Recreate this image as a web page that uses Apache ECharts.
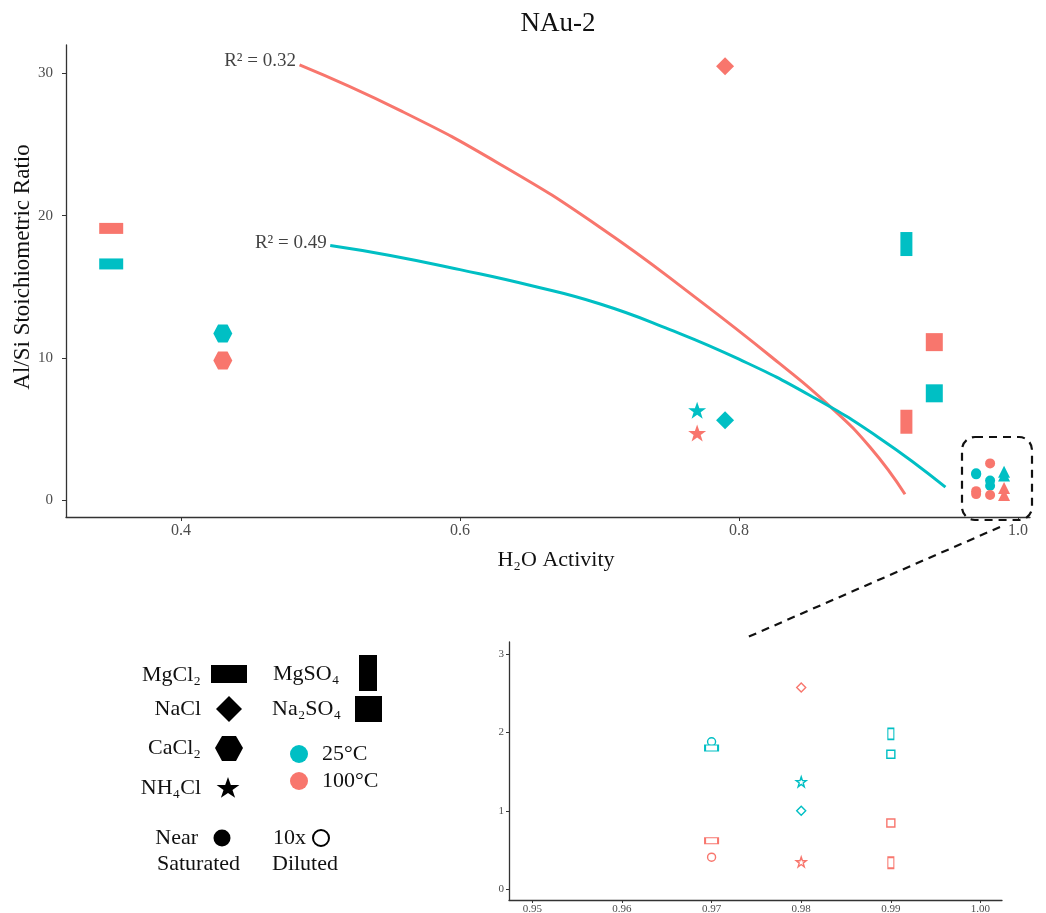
<!DOCTYPE html>
<html><head><meta charset="utf-8">
<script src="https://cdn.jsdelivr.net/npm/echarts@6/dist/echarts.min.js"></script>
<style>html,body{margin:0;padding:0;background:#fff}#c{width:1046px;height:913px}</style>
</head><body><div id="c"></div>
<script>
// ---------- DATA ----------
const mainSalts = ['MgCl2', 'CaCl2', 'NH4Cl', 'NaCl', 'MgSO4', 'Na2SO4'];
const mainX     = [0.35, 0.43, 0.77, 0.79, 0.92, 0.94];
const main25    = [16.6, 11.7, 6.3, 5.6, 18.0, 7.5];
const main100   = [19.1, 9.8, 4.7, 30.5, 5.5, 11.1];

const dilSalts  = ['CaCl2', 'MgCl2', 'NaCl', 'NH4Cl', 'MgSO4', 'Na2SO4'];
const dilX      = [0.97, 0.97, 0.98, 0.98, 0.99, 0.99];
const dil25     = [1.88, 1.80, 1.00, 1.37, 1.98, 1.72];
const dil100    = [0.41, 0.62, 2.57, 0.35, 0.34, 0.845];

const fit25X  = [0.507, 0.55, 0.60, 0.65, 0.70, 0.75, 0.80, 0.85, 0.90, 0.948];
const fit25Y  = [17.9, 17.2, 16.2, 15.1, 13.8, 12.0, 9.9, 7.4, 4.4, 0.9];
const fit100X = [0.485, 0.557, 0.629, 0.700, 0.772, 0.829, 0.865, 0.894, 0.919];
const fit100Y = [30.6, 27.4, 23.6, 19.2, 14.0, 9.6, 6.6, 3.7, 0.4];
const r2Teal = '0.49', r2Red = '0.32';

const mainYTicks = [0, 10, 20, 30];
const mainXTicks = [0.4, 0.6, 0.8, 1.0];
const insetXTicks = [0.95, 0.96, 0.97, 0.98, 0.99, 1.00];
const insetYTicks = [0, 1, 2, 3];

// ---------- STYLE ----------
const TEAL = '#00BFC4', RED = '#F8766D';
const FONT = '"Liberation Serif", "DejaVu Serif", serif';
const HEX = 'path://M25,0 L75,0 L100,50 L75,100 L25,100 L0,50 Z';
const STAR = 'path://M50,0 L61.8,34.5 L97.6,34.5 L68.8,55.9 L79.4,90.5 L50,69.1 L20.6,90.5 L31.2,55.9 L2.4,34.5 L38.2,34.5 Z';
const mainSym = {
  MgCl2: ['rect', [24, 11]], CaCl2: [HEX, [19, 18]], NH4Cl: [STAR, [18, 17]],
  NaCl: ['diamond', [18, 18]], MgSO4: ['rect', [12, 24]], Na2SO4: ['rect', [17, 18]]
};
const clusterSym = {
  CaCl2: ['circle', 10], MgCl2: ['circle', 10], NaCl: ['circle', 10], NH4Cl: ['circle', 10],
  MgSO4: ['triangle', 12], Na2SO4: ['triangle', 12]
};
const insetSym = {
  MgCl2: ['rect', [13, 6]], CaCl2: ['circle', [8, 8]], NH4Cl: [STAR, [10, 10]],
  NaCl: ['diamond', [9, 9]], MgSO4: ['rect', [6, 11]], Na2SO4: ['rect', [8, 8]]
};

function pts(xs, ys, names, sym) {
  return xs.map((x, i) => ({ value: [x, ys[i]], symbol: sym[names[i]][0], symbolSize: sym[names[i]][1] }));
}

const chart = echarts.init(document.getElementById('c'), null, { renderer: 'canvas' });

const axisLineStyle = { show: true, onZero: false, lineStyle: { color: '#333', width: 1.3 } };

const option = {
  backgroundColor: '#fff',
  animation: false,
  title: {
    text: 'NAu-2', left: 553, top: 5, textAlign: 'center',
    textStyle: { fontFamily: FONT, fontWeight: 'normal', fontSize: 27, color: '#111' }
  },
  grid: [
    { left: 66, top: 45, width: 964, height: 472, containLabel: false, outerBoundsMode: 'none' },
    { left: 509, top: 642, width: 493, height: 258, containLabel: false, outerBoundsMode: 'none' }
  ],
  xAxis: [
    {
      type: 'value', gridIndex: 0, min: 0.3176, max: 1.0086,
      axisLine: axisLineStyle, splitLine: { show: false },
      axisTick: { show: true, length: 4, customValues: mainXTicks, lineStyle: { color: '#333' } },
      axisLabel: { color: '#4d4d4d', fontFamily: FONT, fontSize: 16, margin: 6, customValues: mainXTicks, formatter: v => v.toFixed(1) },
      name: 'H₂O Activity', nameLocation: 'middle', nameGap: 32, nameMoveOverlap: false,
      nameTextStyle: { fontFamily: FONT, fontSize: 22, color: '#111', padding: [0, 0, 0, 16] }
    },
    {
      type: 'value', gridIndex: 1, min: 0.9474, max: 1.0024,
      axisLine: axisLineStyle, splitLine: { show: false },
      axisTick: { show: true, length: 3, customValues: insetXTicks, lineStyle: { color: '#333' } },
      axisLabel: { color: '#4d4d4d', fontFamily: FONT, fontSize: 11, margin: 4, customValues: insetXTicks, formatter: v => v.toFixed(2) }
    }
  ],
  yAxis: [
    {
      type: 'value', gridIndex: 0, min: -1.2, max: 32,
      axisLine: axisLineStyle, splitLine: { show: false },
      axisTick: { show: true, length: 4, customValues: mainYTicks, lineStyle: { color: '#333' } },
      axisLabel: { color: '#4d4d4d', fontFamily: FONT, fontSize: 15, margin: 13, customValues: mainYTicks },
      name: 'Al/Si Stoichiometric Ratio', nameLocation: 'middle', nameGap: 32, nameRotate: 90, nameMoveOverlap: false,
      nameTextStyle: { fontFamily: FONT, fontSize: 23, color: '#111', padding: [0, 0, 0, 28] }
    },
    {
      type: 'value', gridIndex: 1, min: -0.135, max: 3.15,
      axisLine: axisLineStyle, splitLine: { show: false },
      axisTick: { show: true, length: 3, customValues: insetYTicks, lineStyle: { color: '#333' } },
      axisLabel: { color: '#4d4d4d', fontFamily: FONT, fontSize: 11, margin: 5, customValues: insetYTicks }
    }
  ],
  series: [
    { type: 'line', xAxisIndex: 0, yAxisIndex: 0, data: fit100X.map((x, i) => [x, fit100Y[i]]),
      smooth: 0.5, showSymbol: false, symbol: 'none', lineStyle: { color: RED, width: 3 }, z: 3 },
    { type: 'line', xAxisIndex: 0, yAxisIndex: 0, data: fit25X.map((x, i) => [x, fit25Y[i]]),
      smooth: 0.5, showSymbol: false, symbol: 'none', lineStyle: { color: TEAL, width: 3 }, z: 3 },
    { type: 'scatter', xAxisIndex: 0, yAxisIndex: 0, data: [[fit100X[0], fit100Y[0]]], symbolSize: 1,
      itemStyle: { color: 'rgba(0,0,0,0)' }, silent: true,
      label: { show: true, position: 'left', distance: 3, formatter: 'R² = ' + r2Red, fontFamily: FONT, fontSize: 19, color: '#111', offset: [0, -4] } },
    { type: 'scatter', xAxisIndex: 0, yAxisIndex: 0, data: [[fit25X[0], fit25Y[0]]], symbolSize: 1,
      itemStyle: { color: 'rgba(0,0,0,0)' }, silent: true,
      label: { show: true, position: 'left', distance: 3, formatter: 'R² = ' + r2Teal, fontFamily: FONT, fontSize: 19, color: '#111', offset: [0, -2] } },
    { type: 'scatter', xAxisIndex: 0, yAxisIndex: 0, data: pts(mainX, main100, mainSalts, mainSym), itemStyle: { color: RED, opacity: 1 }, z: 4 },
    { type: 'scatter', xAxisIndex: 0, yAxisIndex: 0, data: pts(mainX, main25, mainSalts, mainSym), itemStyle: { color: TEAL, opacity: 1 }, z: 4 },
    { type: 'scatter', xAxisIndex: 0, yAxisIndex: 0, data: pts(dilX, dil25, dilSalts, clusterSym), itemStyle: { color: TEAL, opacity: 1 }, z: 4 },
    { type: 'scatter', xAxisIndex: 0, yAxisIndex: 0, data: pts(dilX, dil100, dilSalts, clusterSym), itemStyle: { color: RED, opacity: 1 }, z: 4 },
    { type: 'scatter', xAxisIndex: 1, yAxisIndex: 1, data: pts(dilX, dil25, dilSalts, insetSym),
      itemStyle: { color: '#fff', borderColor: TEAL, borderWidth: 1.4, opacity: 1 } },
    { type: 'scatter', xAxisIndex: 1, yAxisIndex: 1, data: pts(dilX, dil100, dilSalts, insetSym),
      itemStyle: { color: '#fff', borderColor: RED, borderWidth: 1.4, opacity: 1 } }
  ],
  graphic: []
};

const dash = { stroke: '#111', lineWidth: 2.2, lineDash: [8, 6], fill: null };
const legendTxt = (x, y, txt, align) => ({
  type: 'text', x: x, y: y,
  style: { text: txt, fontFamily: FONT, fontSize: 22, fill: '#111', align: align, verticalAlign: 'middle' }
});
option.graphic = [
  { type: 'rect', shape: { x: 962, y: 437, width: 70, height: 83, r: 13 }, style: dash, z: 10 },
  { type: 'line', shape: { x1: 1000, y1: 527, x2: 748, y2: 637 }, style: dash, z: 10 },
  legendTxt(201, 675, 'MgCl₂', 'right'),
  { type: 'rect', shape: { x: 211, y: 665, width: 36, height: 18 }, style: { fill: '#000' } },
  legendTxt(201, 709, 'NaCl', 'right'),
  { type: 'polygon', shape: { points: [[229, 696], [242, 709], [229, 722], [216, 709]] }, style: { fill: '#000' } },
  legendTxt(201, 748, 'CaCl₂', 'right'),
  { type: 'polygon', shape: { points: [[222, 736], [236, 736], [243, 748], [236, 761], [222, 761], [215, 748]] }, style: { fill: '#000' } },
  legendTxt(201, 788, 'NH₄Cl', 'right'),
  { type: 'polygon', shape: { points: [[228, 777], [230.8, 784.9], [239.4, 784.9], [232.5, 789.9], [235.1, 797.8], [228, 792.9], [220.9, 797.8], [223.5, 789.9], [216.6, 784.9], [225.2, 784.9]] }, style: { fill: '#000' } },
  legendTxt(273, 674, 'MgSO₄', 'left'),
  { type: 'rect', shape: { x: 359, y: 655, width: 18, height: 36 }, style: { fill: '#000' } },
  legendTxt(272, 709, 'Na₂SO₄', 'left'),
  { type: 'rect', shape: { x: 355, y: 696, width: 27, height: 26 }, style: { fill: '#000' } },
  { type: 'circle', shape: { cx: 299, cy: 754, r: 9 }, style: { fill: TEAL } },
  legendTxt(322, 754, '25°C', 'left'),
  { type: 'circle', shape: { cx: 299, cy: 781, r: 9 }, style: { fill: RED } },
  legendTxt(322, 781, '100°C', 'left'),
  legendTxt(198, 838, 'Near', 'right'),
  { type: 'circle', shape: { cx: 222, cy: 838, r: 8.5 }, style: { fill: '#000' } },
  legendTxt(157, 864, 'Saturated', 'left'),
  legendTxt(273, 838, '10x', 'left'),
  { type: 'circle', shape: { cx: 321, cy: 838, r: 8 }, style: { fill: '#fff', stroke: '#000', lineWidth: 2 } },
  legendTxt(272, 864, 'Diluted', 'left')
];

chart.setOption(option);
</script>
</body></html>
